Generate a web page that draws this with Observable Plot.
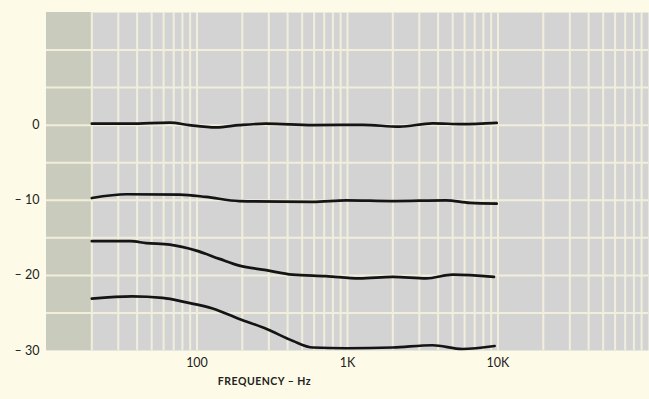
<!DOCTYPE html>
<html><head><meta charset="utf-8">
<script src="https://cdn.jsdelivr.net/npm/d3@7"></script>
<script src="https://cdn.jsdelivr.net/npm/@observablehq/plot@0.6"></script>
<style>
body{margin:0;background:#fdfbe8;}
svg{display:block}
g[aria-label="text"] text{letter-spacing:0.5px}
</style>
</head><body><div id="chart"></div>
<script>
// Frequency response curves (dB)
const f1  = [20, 36, 66, 89, 134, 191, 288, 585, 1260, 2220, 3670, 5810, 9800];
const db1 = [0.2, 0.2, 0.35, 0, -0.3, 0, 0.2, 0, 0.05, -0.2, 0.25, 0.13, 0.3];

const f2  = [20, 34, 77, 115, 191, 585, 980, 2000, 4500, 6500, 9800];
const db2 = [-9.7, -9.2, -9.25, -9.55, -10.1, -10.2, -10.0, -10.1, -10.0, -10.35, -10.45];

const f3  = [20, 36, 46, 66, 99, 141, 191, 288, 431, 719, 1200, 2000, 3340, 5000, 9400];
const db3 = [-15.45, -15.45, -15.7, -15.9, -16.7, -17.8, -18.7, -19.3, -19.9, -20.1, -20.4, -20.2, -20.4, -19.9, -20.2];

const f4  = [20, 37, 59, 85, 127, 191, 288, 431, 589, 980, 2000, 3670, 5800, 9500];
const db4 = [-23.1, -22.8, -23.0, -23.6, -24.4, -25.8, -27.1, -28.7, -29.6, -29.7, -29.6, -29.3, -29.8, -29.4];

const xDomain = [10, 100000];
const yDomain = [-30, 15];
const xTicks = [100, 1000, 10000];
const xTickLabels = ["100", "1K", "10K"];
const yTicks = [0, -10, -20, -30];
const xGrid = [20,30,40,50,60,70,80,90,100,200,300,400,500,600,700,800,900,1000,2000,3000,4000,5000,6000,7000,8000,9000,10000,20000,30000,40000,50000,60000,70000,80000,90000];
const yGrid = [-25, -20, -15, -10, -5, 0, 5, 10];
const bands = [{x1: 10, x2: 20}];
const xLabel = "FREQUENCY \u2013 Hz";

const table = [];
[[f1, db1], [f2, db2], [f3, db3], [f4, db4]].forEach(([fs, ds], i) => {
  fs.forEach((f, j) => table.push({series: i, f, db: ds[j]}));
});

const chart = Plot.plot({
  width: 649, height: 399,
  marginLeft: 46, marginRight: 1, marginTop: 12, marginBottom: 49,
  style: {background: "transparent", fontFamily: "Lato, 'Open Sans', sans-serif", fontSize: "12.5px", color: "#222"},
  x: {type: "log", domain: xDomain},
  y: {domain: yDomain},
  marks: [
    Plot.frame({fill: "#d3d3d4", stroke: null}),
    Plot.rect(bands, {x1: "x1", x2: "x2", y1: yDomain[0], y2: yDomain[1], fill: "#c9cbbc"}),
    Plot.ruleX(xGrid, {stroke: "#f1efdc", strokeWidth: 2}),
    Plot.ruleY(yGrid, {stroke: "#f1efdc", strokeWidth: 2}),
    Plot.line(table, {x: "f", y: "db", z: "series", stroke: "#141414", strokeWidth: 2.7, curve: "monotone-x"}),
    Plot.axisX(xTicks, {tickSize: 0, tickPadding: 8, tickFormat: (d) => xTickLabels[xTicks.indexOf(d)], label: null}),
    Plot.axisY(yTicks, {tickSize: 0, tickPadding: 7, tickFormat: (d) => d === 0 ? "0" : "\u2013 " + Math.abs(d), label: null}),
    Plot.text([xLabel], {frameAnchor: "bottom", dy: 34, dx: -83, fontWeight: "bold", fontSize: 10.5, fill: "#222"})
  ]
});
document.getElementById("chart").append(chart);
</script>
</body></html>
